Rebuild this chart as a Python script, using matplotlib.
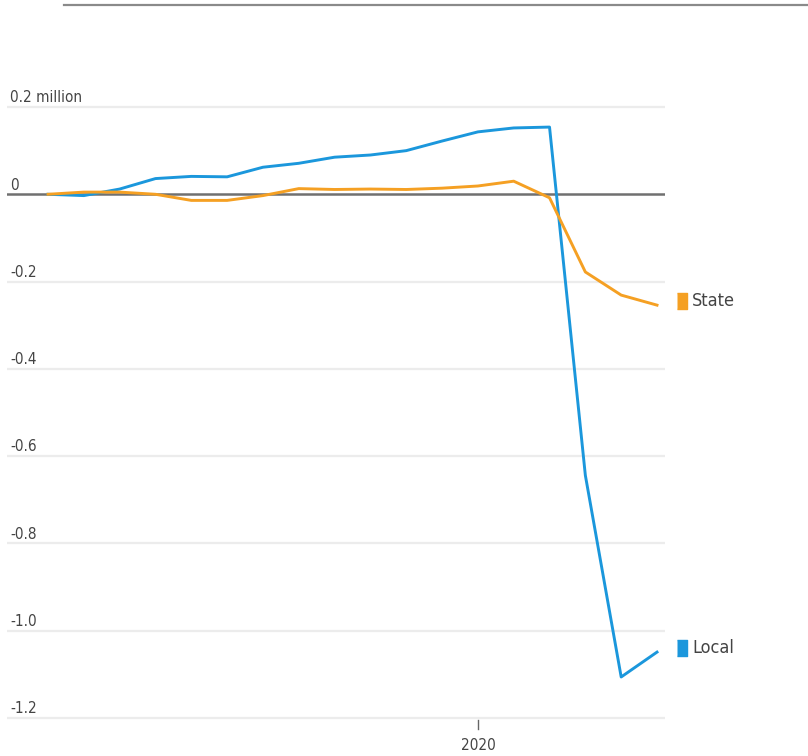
import matplotlib
matplotlib.use("Agg")
import matplotlib.pyplot as plt
from matplotlib.transforms import blended_transform_factory

plt.rcParams["font.family"] = ["Liberation Sans Narrow", "DejaVu Sans"]
plt.rcParams["font.stretch"] = "condensed"

# quarterly change in jobs, millions
quarters = list(range(18))
local_jobs = [0.0, -0.003, 0.012, 0.036, 0.041, 0.040, 0.062, 0.071, 0.085, 0.090,
              0.100, 0.122, 0.143, 0.152, 0.154, -0.644, -1.106, -1.049]
state_jobs = [0.0, 0.005, 0.005, 0.0, -0.014, -0.014, -0.003, 0.013, 0.011, 0.012,
              0.011, 0.014, 0.019, 0.030, -0.008, -0.178, -0.231, -0.254]
y_ticks = [0.2, 0.0, -0.2, -0.4, -0.6, -0.8, -1.0, -1.2]
y_labels = ["0.2 million", "0", "-0.2", "-0.4", "-0.6", "-0.8", "-1.0", "-1.2"]
x_tick_pos = [12]
x_tick_labels = ["2020"]

BLUE = "#1b97dc"
ORANGE = "#f5a023"
TEXT = "#444444"

W, H = 808, 756
fig = plt.figure(figsize=(W / 100, H / 100), dpi=100)

# top rule
fig.add_artist(plt.Line2D([64 / W, 1.0], [1 - 5 / H, 1 - 5 / H], color="#8a8a8a", lw=1.6))

ax_left, ax_right, ax_top, ax_bot = 7, 665, 100, 725
ax = fig.add_axes([ax_left / W, 1 - ax_bot / H, (ax_right - ax_left) / W, (ax_bot - ax_top) / H])
px_x = 609 / 17
px_y = 611 / 1.4
ax.set_xlim((ax_left - 48) / px_x, (ax_right - 48) / px_x)
ax.set_ylim(-1.2 - (ax_bot - 718) / px_y, 0.2 + (107 - ax_top) / px_y)
ax.axis("off")

for yv in y_ticks:
    if yv == 0:
        continue
    ax.axhline(yv, color="#ececec", lw=1.6, zorder=1)
ax.axhline(0, color="#707070", lw=1.8, zorder=2)

trans = blended_transform_factory(ax.transAxes, ax.transData)
for yv, lab in zip(y_ticks, y_labels):
    ax.text(0.005, yv + 0.004, lab, transform=trans, fontsize=11, color=TEXT,
            ha="left", va="bottom")

ax.plot(quarters, local_jobs, color=BLUE, lw=2.1, zorder=3)
ax.plot(quarters, state_jobs, color=ORANGE, lw=2.1, zorder=4)

for xt, lab in zip(x_tick_pos, x_tick_labels):
    ax.plot([xt, xt], [-1.205, -1.225], color="#666666", lw=1, clip_on=False)
    ax.text(xt, -1.245, lab, fontsize=11, color=TEXT, ha="center", va="top")

tall_box = [(-0.3, -0.5), (0.3, -0.5), (0.3, 0.5), (-0.3, 0.5)]
for series, name, col in [(state_jobs, "State", ORANGE), (local_jobs, "Local", BLUE)]:
    yv = series[-1] + 0.01
    ax.plot([17.7], [yv], marker=tall_box, ms=12, color=col, clip_on=False, lw=0)
    ax.text(17.98, yv, name, fontsize=13, color=TEXT, ha="left", va="center", clip_on=False)

fig.savefig("out.png", dpi=100)
